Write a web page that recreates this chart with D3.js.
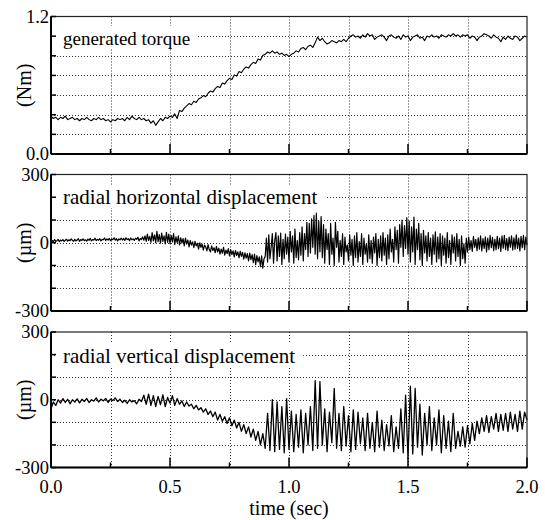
<!DOCTYPE html>
<html>
<head>
<meta charset="utf-8">
<script src="https://cdn.jsdelivr.net/npm/d3@7"></script>
<style>
  html, body { margin: 0; padding: 0; background: #fff; }
  text { font-family: "Times New Roman", Times, "Liberation Serif", "DejaVu Serif", serif; }
</style>
</head>
<body>
<div id="chart"></div>
<script>
// torque and vertical sampled every 0.01 s, horizontal every 0.005 s (0 .. 2 s)
var torqueStep = 0.01;
var horizontalStep = 0.005;
var verticalStep = 0.01;

var torque = [
  0.33,0.31,0.32,0.30,0.32,0.31,0.33,0.30,0.31,0.32,
  0.30,0.31,0.29,0.31,0.30,0.32,0.30,0.29,0.31,0.30,
  0.32,0.30,0.31,0.29,0.30,0.28,0.30,0.29,0.31,0.30,
  0.31,0.29,0.32,0.30,0.33,0.31,0.30,0.32,0.30,0.31,
  0.29,0.30,0.27,0.29,0.25,0.28,0.31,0.29,0.32,0.31,
  0.33,0.32,0.35,0.31,0.38,0.37,0.40,0.42,0.44,0.43,
  0.46,0.45,0.48,0.49,0.51,0.50,0.53,0.55,0.54,0.57,
  0.59,0.58,0.62,0.61,0.64,0.66,0.65,0.69,0.68,0.72,
  0.71,0.74,0.76,0.75,0.78,0.80,0.79,0.83,0.82,0.86,
  0.87,0.89,0.88,0.90,0.88,0.89,0.87,0.88,0.86,0.87,
  0.85,0.87,0.88,0.90,0.89,0.92,0.93,0.91,0.94,0.95,
  0.93,0.97,1.02,0.99,1.01,0.98,0.96,0.97,0.99,0.98,
  0.97,0.99,0.98,1.00,0.98,1.01,1.03,1.04,1.02,1.03,
  1.01,1.04,1.02,1.05,1.03,1.04,1.00,1.02,1.03,1.04,
  1.02,0.99,1.03,1.04,1.02,1.01,1.03,1.00,1.04,1.02,
  1.03,0.99,1.02,1.03,1.04,1.01,1.02,0.99,1.03,1.02,
  1.04,1.02,1.03,1.01,1.04,1.03,1.02,1.04,1.03,1.05,
  1.03,1.04,1.02,1.04,1.03,1.04,1.01,1.03,1.02,0.99,
  1.02,1.03,1.05,1.04,1.03,1.01,1.04,1.02,1.01,0.98,
  1.02,1.00,1.03,1.01,1.00,1.03,1.02,0.99,1.01,1.03,
  1.02
];

var horizontal = [
  2,10,4,14,6,9,15,5,12,8,
  14,6,11,16,7,13,9,17,10,6,
  15,8,12,18,6,14,10,17,9,13,
  7,16,11,19,8,14,12,20,9,15,
  11,18,8,15,13,21,10,17,12,19,
  9,16,14,22,11,18,8,17,13,20,
  12,19,10,22,14,18,9,21,13,17,
  10,20,15,24,8,19,14,26,11,30,
  6,38,10,28,2,45,8,35,0,50,
  5,36,-2,42,6,30,-5,46,2,38,
  -4,32,4,40,-8,26,0,30,-10,22,
  -2,18,-14,20,-6,12,-18,10,-10,4,
  -22,6,-14,-2,-28,0,-20,-6,-32,-10,
  -18,-36,-8,-30,-40,-14,-34,-22,-44,-16,
  -40,-24,-50,-28,-46,-20,-54,-32,-48,-26,
  -58,-30,-52,-36,-62,-34,-56,-40,-66,-38,
  -60,-42,-72,-44,-68,-48,-80,-46,-74,-52,
  -88,-50,-96,-56,-84,-62,-105,-58,-112,-70,
  -60,20,-85,35,-70,-20,40,-90,10,45,
  -80,30,-60,42,-95,15,-70,38,-50,25,
  -85,50,-40,30,-90,60,-65,10,-75,45,
  -55,70,-80,40,-30,90,-60,85,-45,105,
  -20,120,-50,130,-70,95,-40,115,-65,80,
  -90,60,-30,40,-95,85,-50,20,-100,90,
  -20,50,-85,10,-60,40,-95,25,-40,-10,
  -80,35,-55,15,-100,30,-65,45,-85,5,
  -60,40,-95,20,-50,-5,-85,35,-70,10,
  -90,25,-45,40,-100,15,-65,30,-80,45,
  -55,20,-95,35,-70,60,-40,15,-85,70,
  -30,55,-90,80,-20,100,-60,75,-25,110,
  -50,95,-85,70,-40,113,-95,60,-30,85,
  -75,40,-100,55,-45,30,-80,45,-60,20,
  -95,35,-50,48,-85,25,-70,40,-100,30,
  -55,20,-90,45,-65,10,-95,35,-45,25,
  -80,40,-60,15,-100,30,-70,-5,-90,20,
  -40,25,-30,10,-38,28,-20,15,-35,22,
  -28,30,-36,18,-25,26,-40,20,-30,32,
  -22,24,-35,15,-30,28,-26,20,-38,30,
  -24,33,-30,18,-35,25,-20,30,-32,22,
  -28,35,-25,20,-36,28,-22,32,-30,25,
  -10
];

var vertical = [
  -40,-10,-25,0,-15,5,-12,2,-18,0,
  -10,4,-14,2,-8,6,-12,0,-6,8,
  -10,2,-5,6,-12,3,-4,8,-8,2,
  -12,-2,-16,0,-10,-4,-18,2,-8,20,
  -20,25,-25,18,-30,15,-22,22,-30,10,
  -15,18,-25,5,-20,-5,-30,-10,-28,-20,
  -40,-25,-45,-35,-55,-40,-65,-50,-75,-55,
  -90,-65,-95,-75,-105,-80,-115,-90,-125,-100,
  -140,-110,-150,-120,-165,-130,-180,-140,-200,-150,
  -215,-60,-225,0,-230,-10,-220,-30,-235,5,
  -220,-50,-230,-65,-210,-45,-235,-60,-200,-30,
  -225,85,-215,80,-200,-40,-230,-55,-190,50,
  -215,-60,-225,-30,-205,-70,-230,-45,-220,-55,
  -195,-80,-225,-60,-215,-100,-230,-50,-210,-90,
  -225,-110,-205,-70,-230,-120,-215,-40,-235,20,
  -260,60,-240,50,-210,-20,-245,-60,-200,-30,
  -225,-80,-200,-45,-235,-70,-215,-95,-230,-60,
  -215,-140,-205,-120,-210,-115,-195,-105,-180,-95,
  -150,-80,-140,-70,-145,-75,-130,-60,-140,-65,
  -135,-60,-140,-55,-130,-65,-140,-50,-130,-55,
  -90
];

var xMajorTicks = [0, 0.5, 1.0, 1.5, 2.0];
var xMinorTicks = [0.25, 0.75, 1.25, 1.75];
var xTickLabels = ["0.0", "0.5", "1.0", "1.5", "2.0"];
var torqueTickLabels = [[0, "0.0"], [1.2, "1.2"]];
var dispTickLabels = [[-300, "-300"], [0, "0"], [300, "300"]];
var panelTitles = ["generated torque", "radial horizontal displacement", "radial vertical displacement"];
var unitLabels = ["(Nm)", "(\u00b5m)", "(\u00b5m)"];

(function () {
  var W = 545, H = 520;
  var left = 51, right = 527;
  var svg = d3.select("#chart").append("svg").attr("width", W).attr("height", H);

  var x = d3.scaleLinear().domain([0, 2]).range([left, right]);

  var panels = [
    { data: torque, dt: torqueStep, domain: [0, 1.2], top: 16.5, bottom: 154, divs: 7, labels: torqueTickLabels, titleY: 45, titleSize: 19, sw: 1.1 },
    { data: horizontal, dt: horizontalStep, domain: [-300, 300], top: 174.5, bottom: 311, divs: 6, labels: dispTickLabels, titleY: 204, titleSize: 21, sw: 1.2 },
    { data: vertical, dt: verticalStep, domain: [-300, 300], top: 332, bottom: 467.5, divs: 6, labels: dispTickLabels, titleY: 363, titleSize: 21, sw: 1.3 }
  ];

  panels.forEach(function (p, i) {
    var y = d3.scaleLinear().domain(p.domain).range([p.bottom, p.top]);
    var g = svg.append("g");
    var step = (p.domain[1] - p.domain[0]) / p.divs;
    var gridY = d3.range(1, p.divs).map(function (k) { return p.domain[0] + k * step; });
    var ticksY = d3.range(0, p.divs + 1).map(function (k) { return p.domain[0] + k * step; });

    // dotted grid
    g.selectAll("line.gy").data(gridY).enter().append("line")
      .attr("x1", left).attr("x2", right)
      .attr("y1", function (d) { return Math.round(y(d)) + 0.5; })
      .attr("y2", function (d) { return Math.round(y(d)) + 0.5; })
      .attr("stroke", "#333").attr("stroke-width", 1).attr("stroke-dasharray", "1,2");
    g.selectAll("line.gx").data(xMajorTicks.slice(1, -1).concat(xMinorTicks)).enter().append("line")
      .attr("x1", function (d) { return Math.round(x(d)) + 0.5; })
      .attr("x2", function (d) { return Math.round(x(d)) + 0.5; })
      .attr("y1", p.top).attr("y2", p.bottom)
      .attr("stroke", "#333").attr("stroke-width", 1).attr("stroke-dasharray", "1,2");

    // panel title with white backing
    var title = g.append("text").attr("x", 63).attr("y", p.titleY)
      .attr("font-size", p.titleSize).text(panelTitles[i]);
    var bb = title.node().getBBox();
    g.insert("rect", "text").attr("x", bb.x - 6).attr("y", p.titleY - 19)
      .attr("width", bb.width + 14).attr("height", 23).attr("fill", "#fff");

    // signal
    var line = d3.line()
      .x(function (d, k) { return x(k * p.dt); })
      .y(function (d) { return y(d); });
    g.append("path").datum(p.data).attr("d", line)
      .attr("fill", "none").attr("stroke", "#000").attr("stroke-width", p.sw)
      .attr("stroke-linejoin", "round");

    // frame
    g.append("rect").attr("x", left).attr("y", p.top)
      .attr("width", right - left).attr("height", p.bottom - p.top)
      .attr("fill", "none").attr("stroke", "#222").attr("stroke-width", 1.2);
    g.append("line").attr("x1", left).attr("x2", right).attr("y1", p.bottom).attr("y2", p.bottom)
      .attr("stroke", "#000").attr("stroke-width", 2);
    g.append("line").attr("x1", left).attr("x2", left).attr("y1", p.top).attr("y2", p.bottom)
      .attr("stroke", "#000").attr("stroke-width", 2);

    // inward ticks
    g.selectAll("line.ty").data(ticksY).enter().append("line")
      .attr("x1", left).attr("x2", left + 5)
      .attr("y1", function (d) { return y(d); }).attr("y2", function (d) { return y(d); })
      .attr("stroke", "#000").attr("stroke-width", 1.5);
    g.selectAll("line.txm").data(xMajorTicks).enter().append("line")
      .attr("x1", function (d) { return x(d); }).attr("x2", function (d) { return x(d); })
      .attr("y1", p.bottom).attr("y2", p.bottom - 10)
      .attr("stroke", "#000").attr("stroke-width", 1.5);
    g.selectAll("line.txn").data(xMinorTicks).enter().append("line")
      .attr("x1", function (d) { return x(d); }).attr("x2", function (d) { return x(d); })
      .attr("y1", p.bottom).attr("y2", p.bottom - 5)
      .attr("stroke", "#000").attr("stroke-width", 1.5);

    // y tick labels
    g.selectAll("text.yl").data(p.labels).enter().append("text")
      .attr("x", left - 2).attr("y", function (d) { return y(d[0]); })
      .attr("dy", "0.35em").attr("text-anchor", "end").attr("font-size", 18.5)
      .text(function (d) { return d[1]; });

    // unit label
    g.append("text")
      .attr("transform", "translate(31," + ((p.top + p.bottom) / 2) + ") rotate(-90)")
      .attr("text-anchor", "middle").attr("font-size", 20).text(unitLabels[i]);

    if (i === panels.length - 1) {
      g.selectAll("text.xl").data(xMajorTicks).enter().append("text")
        .attr("x", function (d) { return x(d); }).attr("y", 493)
        .attr("text-anchor", "middle").attr("font-size", 18.5)
        .text(function (d, k) { return xTickLabels[k]; });
      g.append("text").attr("x", x(1)).attr("y", 515)
        .attr("text-anchor", "middle").attr("font-size", 20).text("time (sec)");
    }
  });
})();
</script>
</body>
</html>
